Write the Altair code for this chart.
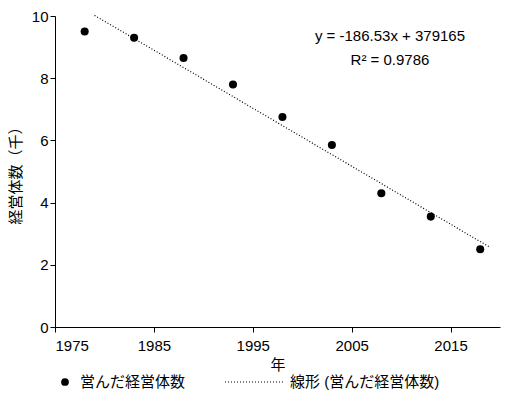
import pandas as pd
import altair as alt

FONT = "Liberation Sans, Noto Sans CJK JP"

years = [1978, 1983, 1988, 1993, 1998, 2003, 2008, 2013, 2018]
counts = [9.5, 9.3, 8.65, 7.8, 6.75, 5.85, 4.3, 3.55, 2.5]
trend_x = [1979, 2019]
trend_y = [10.02, 2.56]

df = pd.DataFrame({'年': years, '経営体数': counts})
trend = pd.DataFrame({'年': trend_x, '経営体数': trend_y})

x = alt.X('年:Q', scale=alt.Scale(domain=[1975, 2020], nice=False),
          axis=alt.Axis(values=[1975, 1985, 1995, 2005, 2015], format='d', grid=False,
                        labelPadding=6, titlePadding=4, tickSize=5,
                        domainColor='black', tickColor='black'))
y = alt.Y('経営体数:Q', scale=alt.Scale(domain=[0, 10], nice=False),
          axis=alt.Axis(values=[0, 2, 4, 6, 8, 10], grid=False, title='経営体数（千）',
                        tickSize=5, domainColor='black', tickColor='black', titlePadding=8))

pts = alt.Chart(df).mark_circle(size=65, color='black', opacity=1).encode(x=x, y=y)
line = alt.Chart(trend).mark_line(color='black', strokeDash=[1, 2], strokeWidth=1.2).encode(x=x, y=y)

eq = alt.Chart(pd.DataFrame({'t': ['y = -186.53x + 379165', 'R² = 0.9786'],
                             'yy': [20, 44]})).mark_text(
    fontSize=15, font=FONT, color='black').encode(
    x=alt.value(335), y=alt.Y('yy:Q', scale=None), text='t:N')

leg_dot = alt.Chart(pd.DataFrame({'a': [0]})).mark_circle(size=60, color='black', opacity=1).encode(
    x=alt.value(10), y=alt.value(366))
leg_txt = alt.Chart(pd.DataFrame({'t': ['営んだ経営体数', '線形 (営んだ経営体数)'], 'xx': [25, 235]})).mark_text(
    fontSize=15, font=FONT, align='left', color='black').encode(
    x=alt.X('xx:Q', scale=None), y=alt.value(366), text='t:N')
leg_line = alt.Chart(pd.DataFrame({'a': [0]})).mark_rule(color='black', strokeDash=[1, 2], strokeWidth=1.2).encode(
    x=alt.value(170), x2=alt.value(230), y=alt.value(366))

chart = (line + pts + eq + leg_dot + leg_txt + leg_line).properties(
    width=445, height=311,
    padding={"left": 47, "top": 8, "right": 20, "bottom": 70},
    autosize=alt.AutoSizeParams(type="none")
).configure_view(stroke=None).configure_axis(
    labelFont=FONT, titleFont=FONT, labelFontSize=15, titleFontSize=15,
    labelColor='black', titleColor='black', titleFontWeight='normal'
)

chart.save("out.html", embed_options={"renderer": "svg", "actions": False})
